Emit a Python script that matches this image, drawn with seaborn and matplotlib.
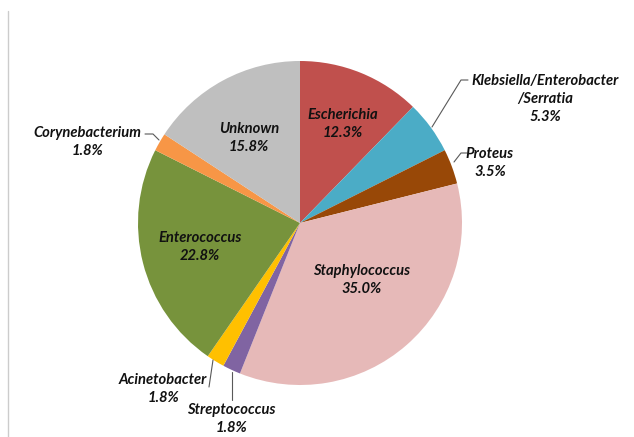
import seaborn as sns
import matplotlib.pyplot as plt
from matplotlib.lines import Line2D

# data, clockwise from 12 o'clock
genera = ["Escherichia", "Klebsiella/Enterobacter\n/Serratia", "Proteus",
          "Staphylococcus", "Streptococcus", "Acinetobacter",
          "Enterococcus", "Corynebacterium", "Unknown"]
share = [12.3, 5.3, 3.5, 35.0, 1.8, 1.8, 22.8, 1.8, 15.8]
colors = ["#C0504D", "#4BACC6", "#984807", "#E6B9B8", "#8064A2",
          "#FFC000", "#77933C", "#F79646", "#BFBFBF"]

# label centres in pixels (x, y from top)
label_pos = [(343, 124), (545, 99), (490, 163), (362, 280), (231, 419),
             (163, 389), (200, 247), (87, 142), (249, 138)]
# leader lines in pixels
leaders = [
    [(432, 127), (461, 80), (468, 80)],
    [(454, 162), (461, 153), (467, 153)],
    [(232, 372), (232, 400)],
    [(213, 360), (209, 387)],
    [(159, 140), (153, 134), (145, 134)],
]

sns.set_theme(style="white")
plt.rcParams['font.family'] = ['Lato', 'DejaVu Sans']

W, H = 634, 437
fig = plt.figure(figsize=(W / 100, H / 100), dpi=100)
cx, cy, r = 300, 223, 162
ax = fig.add_axes([(cx - r) / W, (H - cy - r) / H, 2 * r / W, 2 * r / H])
ax.pie(share, colors=sns.color_palette(colors), startangle=90,
       counterclock=False, radius=1,
       wedgeprops=dict(linewidth=0))
ax.set_xlim(-1, 1)
ax.set_ylim(-1, 1)
ax.set_aspect("equal")
ax.axis("off")

for name, val, (px, py) in zip(genera, share, label_pos):
    fig.text(px / W, 1 - py / H, f"{name}\n{val:.1f}%", ha="center",
             va="center", fontsize=10.6, fontweight="bold", fontstyle="italic",
             color="#111111", linespacing=1.4)

for pts in leaders:
    xs = [p[0] / W for p in pts]
    ys = [1 - p[1] / H for p in pts]
    fig.add_artist(Line2D(xs, ys, transform=fig.transFigure,
                          color="#595959", lw=0.8))

# faint frame edge on the left
fig.add_artist(Line2D([8 / W, 8 / W], [0, 1 - 11 / H],
                      transform=fig.transFigure, color="#cccccc", lw=1))

fig.savefig("out.png", dpi=100)
